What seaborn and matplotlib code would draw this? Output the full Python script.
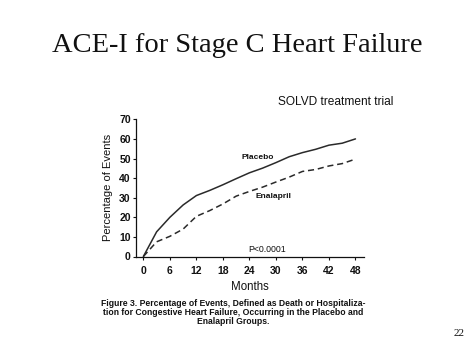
import matplotlib
matplotlib.use("Agg")
import matplotlib.pyplot as plt
import seaborn as sns
import pandas as pd

# values
months = [0, 3, 6, 9, 12, 15, 18, 21, 24, 27, 30, 33, 36, 39, 42, 45, 48]
placebo = [0, 12.6, 20, 26.3, 31.1, 33.7, 36.6, 39.7, 42.7, 45.1, 47.9, 50.9, 53, 54.7, 56.8, 57.8, 60]
enalapril = [0, 7.5, 10.3, 14, 20.5, 23.4, 26.8, 30.8, 33.2, 35.4, 38, 40.5, 43.4, 44.4, 46.2, 47.4, 49.7]

df = pd.DataFrame({"Months": months * 2,
                   "Pct": placebo + enalapril,
                   "Group": ["Placebo"] * len(months) + ["Enalapril"] * len(months)})

sns.set_style("white")
plt.rcParams["font.family"] = ["Liberation Sans", "DejaVu Sans"]
ink = "#111111"

fig = plt.figure(figsize=(4.74, 3.55), dpi=100)
ax = fig.add_axes([136.3 / 474, 1 - 256.5 / 355, 228 / 474, 137.2 / 355])

sns.lineplot(data=df, x="Months", y="Pct", style="Group", color="#2a2a2a",
             dashes={"Placebo": "", "Enalapril": (4, 2.5)}, linewidth=1.1,
             legend=False, ax=ax)

ax.set_xlim(-1.6, 50)
ax.set_ylim(0, 70)
ax.set_xticks(range(0, 49, 6))
ax.set_yticks(range(0, 71, 10))
ax.tick_params(axis="both", labelsize=7.5, length=2, width=0.8, colors=ink,
               bottom=True, left=True)
ax.tick_params(axis="x", pad=5)
ax.tick_params(axis="y", pad=2)
for lab in ax.get_xticklabels() + ax.get_yticklabels():
    lab.set_fontweight("bold")
sns.despine(ax=ax)
for s in ["left", "bottom"]:
    ax.spines[s].set_color(ink)
    ax.spines[s].set_linewidth(0.9)
ax.set_xlabel("Months", fontsize=8.3, labelpad=3.5, color=ink)
ax.set_ylabel("Percentage of Events", fontsize=8.0, labelpad=4.5, color=ink)

ax.text(22.1, 50.3, "Placebo", fontsize=6, fontweight="bold", va="center", color=ink)
ax.text(25.4, 30.4, "Enalapril", fontsize=6, fontweight="bold", va="center", color=ink)
ax.text(23.7, 3.6, "P<0.0001", fontsize=6.3, va="center", color=ink)

fig.text(0.5, 1 - 45 / 355, "ACE-I for Stage C Heart Failure",
         family="Liberation Serif", fontsize=20.5, ha="center", va="center",
         color=ink)
fig.text(335.5 / 474, 1 - 102 / 355, "SOLVD treatment trial",
         fontsize=8.6, ha="center", va="center", color=ink)
fig.text(233 / 474, 1 - 312.7 / 355,
         "Figure 3. Percentage of Events, Defined as Death or Hospitaliza-\n"
         "tion for Congestive Heart Failure, Occurring in the Placebo and\n"
         "Enalapril Groups.",
         fontsize=6.2, fontweight="bold", ha="center", va="center",
         multialignment="center", linespacing=1.0, color=ink)
fig.text(459 / 474, 1 - 333 / 355, "22", family="Liberation Serif",
         fontsize=8, ha="center", va="center", color=ink)

fig.savefig("out.png", dpi=100)
